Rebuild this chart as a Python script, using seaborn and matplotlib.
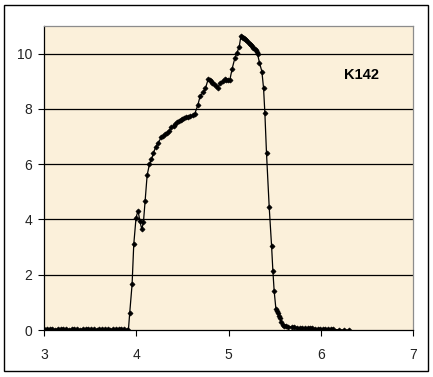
import numpy as np
import pandas as pd
import matplotlib
matplotlib.use('Agg')
import matplotlib.pyplot as plt
import seaborn as sns
from matplotlib.patches import Rectangle

# flat baseline before the rise
base_x = [3.00, 3.03, 3.06, 3.09, 3.12, 3.15, 3.18, 3.21, 3.24, 3.27, 3.30, 3.33,
          3.36, 3.39, 3.42, 3.45, 3.48, 3.51, 3.54, 3.57, 3.60, 3.63, 3.66, 3.69,
          3.72, 3.75, 3.78, 3.81, 3.84, 3.87, 3.90]
base_y = [0.04, 0.02, 0.05, 0.03, 0.01, 0.04, 0.02, 0.03, 0.05, 0.01, 0.03, 0.04,
          0.02, 0.01, 0.04, 0.03, 0.05, 0.02, 0.03, 0.01, 0.04, 0.05, 0.02, 0.03,
          0.01, 0.04, 0.02, 0.05, 0.03, 0.02, 0.01]

# main peak
peak_x = [3.915, 3.929, 3.955, 3.973, 3.998, 4.020, 4.038, 4.060, 4.078, 4.096,
          4.118, 4.143, 4.165, 4.186, 4.212, 4.240, 4.273, 4.295, 4.316, 4.335,
          4.353, 4.382, 4.405, 4.425, 4.445, 4.461, 4.480, 4.501, 4.522, 4.544,
          4.566, 4.588, 4.612, 4.635, 4.667, 4.693, 4.725, 4.750, 4.779, 4.795,
          4.808, 4.826, 4.844, 4.862, 4.881, 4.910, 4.942, 4.960, 4.978, 4.996,
          5.014, 5.040, 5.069, 5.090, 5.116, 5.134, 5.145, 5.156, 5.167, 5.177,
          5.190, 5.205, 5.221, 5.235, 5.247, 5.257, 5.270, 5.282, 5.293, 5.305,
          5.315, 5.336, 5.362, 5.380, 5.394, 5.412, 5.441, 5.467, 5.481, 5.495,
          5.514, 5.525, 5.535, 5.546, 5.557, 5.570, 5.586]
peak_y = [0.00, 0.61, 1.66, 3.10, 4.07, 4.32, 3.96, 3.65, 3.90, 4.67,
          5.60, 6.00, 6.17, 6.40, 6.63, 6.78, 6.99, 7.03, 7.08, 7.14,
          7.20, 7.34, 7.39, 7.44, 7.51, 7.56, 7.61, 7.65, 7.68, 7.71,
          7.72, 7.74, 7.77, 7.83, 8.13, 8.47, 8.60, 8.74, 9.07, 9.05,
          9.01, 8.95, 8.89, 8.82, 8.74, 8.94, 9.02, 9.07, 9.06, 9.05,
          9.04, 9.46, 9.84, 10.02, 10.24, 10.63, 10.60, 10.57, 10.55, 10.52,
          10.48, 10.44, 10.40, 10.35, 10.31, 10.27, 10.22, 10.17, 10.12, 10.05,
          9.98, 9.67, 9.35, 8.75, 7.87, 6.39, 4.46, 3.04, 2.14, 1.41,
          0.76, 0.68, 0.61, 0.52, 0.43, 0.30, 0.19]

# tail after the drop
tail_x = [5.600, 5.622, 5.650, 5.683, 5.710, 5.740, 5.774, 5.800, 5.830, 5.860,
          5.882, 5.910, 5.940, 5.965, 5.990, 6.020, 6.050, 6.080, 6.110, 6.135,
          6.200, 6.250, 6.310]
tail_y = [0.15, 0.13, 0.12, 0.11, 0.10, 0.09, 0.08, 0.08, 0.07, 0.07,
          0.06, 0.06, 0.05, 0.05, 0.05, 0.04, 0.04, 0.04, 0.03, 0.02,
          0.01, 0.00, 0.00]

x_ticks = [3, 4, 5, 6, 7]
y_ticks = [0, 2, 4, 6, 8, 10]
label = 'K142'

df = pd.DataFrame({'x': base_x + peak_x + tail_x,
                   'y': base_y + peak_y + tail_y})

plt.rcParams['font.family'] = ['Liberation Sans', 'DejaVu Sans']

fig = plt.figure(figsize=(4.33, 3.77), dpi=100)
fig.patch.set_facecolor('white')
ax = fig.add_axes([44 / 433, 1 - 330 / 377, (413 - 44) / 433, (330 - 26) / 377])
ax.set_facecolor('#fbf0da')

for yv in y_ticks[1:]:
    ax.axhline(yv, color='black', lw=0.9, zorder=1)

sns.lineplot(data=df, x='x', y='y', ax=ax, color='black', lw=0.9,
             marker='D', markersize=2.6, markeredgewidth=0.5,
             markeredgecolor='black', sort=False, estimator=None, zorder=3)

ax.set_xlim(3, 7)
ax.set_ylim(0, 11)
ax.set_xticks(x_ticks)
ax.set_yticks(y_ticks)
ax.set_xlabel('')
ax.set_ylabel('')
ax.tick_params(axis='both', direction='out', length=4.5, width=0.8,
               color='black', labelsize=10, labelcolor='#222222')
ax.tick_params(axis='x', pad=8.5)
ax.tick_params(axis='y', pad=4)

for side in ['left', 'bottom']:
    ax.spines[side].set_color('black')
    ax.spines[side].set_linewidth(0.9)
for side in ['top', 'right']:
    ax.spines[side].set_color('#8c8c8c')
    ax.spines[side].set_linewidth(0.9)

ax.text(6.44, 9.22, label, fontsize=10.5, fontweight='bold',
        ha='center', va='center')

fig.patches.append(Rectangle((4 / 433, 6 / 377), 424 / 433, 366 / 377,
                             transform=fig.transFigure, fill=False,
                             edgecolor='black', lw=1.0))

fig.savefig('out.png', dpi=100)
